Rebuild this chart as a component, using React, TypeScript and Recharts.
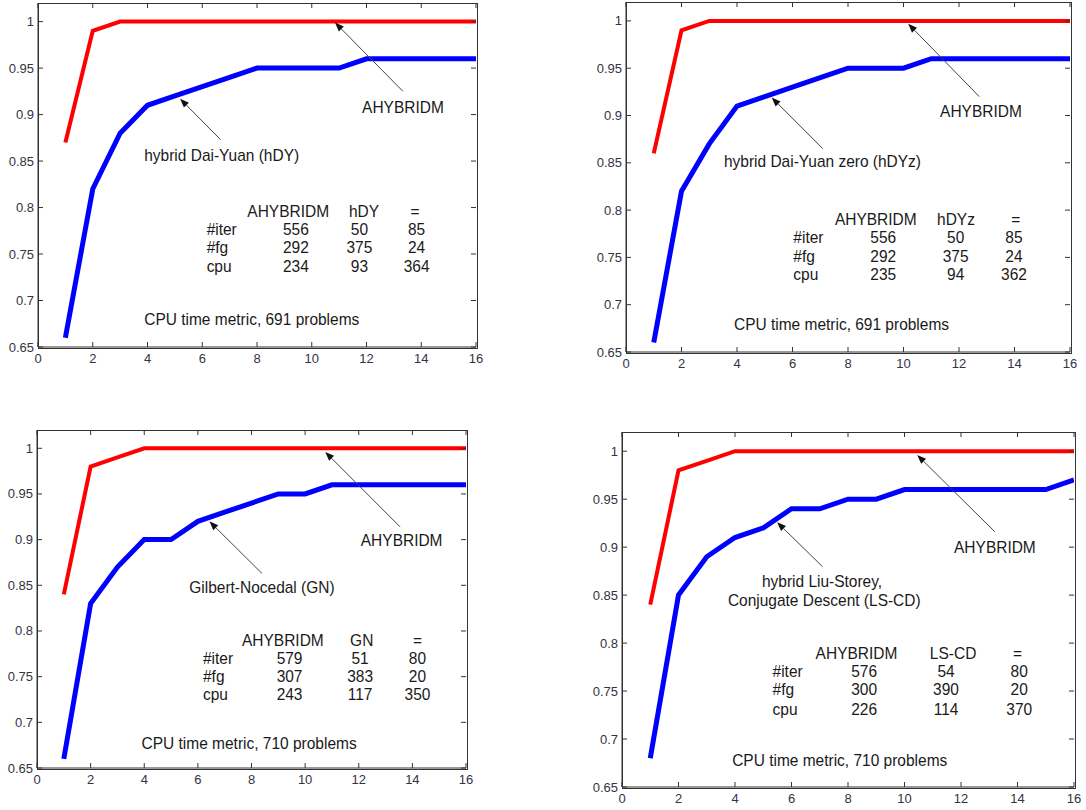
import { LineChart, Line, XAxis, YAxis, ReferenceLine, ReferenceDot } from "recharts";

const FONT = "'Liberation Sans', Arial, Helvetica, sans-serif";

// performance profile abscissa (tau) and axis ticks
const xSteps = [1, 2, 3, 4, 5, 6, 7, 8, 9, 10, 11, 12, 13, 14, 15, 16];
const xTicks = [0, 2, 4, 6, 8, 10, 12, 14, 16];
const yTicks = [0.65, 0.7, 0.75, 0.8, 0.85, 0.9, 0.95, 1];
const X_MIN = 0;
const X_MAX = 16;
const Y_MIN = 0.65;
const Y_MAX = 1.02;

// AHYBRIDM vs hybrid Dai-Yuan
const hdyAhybridm = [0.87, 0.99, 1, 1, 1, 1, 1, 1, 1, 1, 1, 1, 1, 1, 1, 1];
const hdyOther = [0.66, 0.82, 0.88, 0.91, 0.92, 0.93, 0.94, 0.95, 0.95, 0.95, 0.95, 0.96, 0.96, 0.96, 0.96, 0.96];
// AHYBRIDM vs hybrid Dai-Yuan zero
const hdyzAhybridm = [0.86, 0.99, 1, 1, 1, 1, 1, 1, 1, 1, 1, 1, 1, 1, 1, 1];
const hdyzOther = [0.66, 0.82, 0.87, 0.91, 0.92, 0.93, 0.94, 0.95, 0.95, 0.95, 0.96, 0.96, 0.96, 0.96, 0.96, 0.96];
// AHYBRIDM vs Gilbert-Nocedal
const gnAhybridm = [0.84, 0.98, 0.99, 1, 1, 1, 1, 1, 1, 1, 1, 1, 1, 1, 1, 1];
const gnOther = [0.66, 0.83, 0.87, 0.9, 0.9, 0.92, 0.93, 0.94, 0.95, 0.95, 0.96, 0.96, 0.96, 0.96, 0.96, 0.96];
// AHYBRIDM vs LS-CD
const lscdAhybridm = [0.84, 0.98, 0.99, 1, 1, 1, 1, 1, 1, 1, 1, 1, 1, 1, 1, 1];
const lscdOther = [0.68, 0.85, 0.89, 0.91, 0.92, 0.94, 0.94, 0.95, 0.95, 0.96, 0.96, 0.96, 0.96, 0.96, 0.96, 0.97];

// comparison tables: rows #iter, #fg, cpu; columns AHYBRIDM, other, =
const tableRows = ["#iter", "#fg", "cpu"];
const hdyCounts = [[556, 50, 85], [292, 375, 24], [234, 93, 364]];
const hdyzCounts = [[556, 50, 85], [292, 375, 24], [235, 94, 362]];
const gnCounts = [[579, 51, 80], [307, 383, 20], [243, 117, 350]];
const lscdCounts = [[576, 54, 80], [300, 390, 20], [226, 114, 370]];

type Pt = [number, number];

interface PanelSpec {
  left: number;
  top: number;
  width: number;
  height: number;
  red: number[];
  blue: number[];
  short: string;
  counts: number[][];
  caption: string;
  blueText: { text: string; at: Pt }[];
  blueArrow: [Pt, Pt];
  redText: Pt;
  redArrow: [Pt, Pt];
  rowX: number;
  headX: number[];
  numX: number[];
  headY: number;
  rowY: number[];
  captionAt: Pt;
}

const panels: PanelSpec[] = [
  {
    left: 38, top: 3, width: 438, height: 344,
    red: hdyAhybridm, blue: hdyOther, short: "hDY", counts: hdyCounts,
    caption: "CPU time metric, 691 problems",
    blueText: [{ text: "hybrid Dai-Yuan (hDY)", at: [6.71, 0.857] }],
    blueArrow: [[6.67, 0.873], [5.19, 0.917]],
    redText: [13.33, 0.909],
    redArrow: [[13.33, 0.925], [10.85, 0.999]],
    rowX: 6.16, headX: [9.14, 11.91, 13.77], numX: [9.42, 11.74, 13.83],
    headY: 0.797, rowY: [0.7775, 0.758, 0.738], captionAt: [3.88, 0.681],
  },
  {
    left: 626, top: 2, width: 444, height: 350,
    red: hdyzAhybridm, blue: hdyzOther, short: "hDYz", counts: hdyzCounts,
    caption: "CPU time metric, 691 problems",
    blueText: [{ text: "hybrid Dai-Yuan zero (hDYz)", at: [7.08, 0.852] }],
    blueArrow: [[7.09, 0.865], [5.25, 0.919]],
    redText: [12.79, 0.905],
    redArrow: [[12.73, 0.92], [10.17, 0.997]],
    rowX: 6.03, headX: [9.0, 11.89, 14.05], numX: [9.27, 11.88, 13.98],
    headY: 0.791, rowY: [0.772, 0.752, 0.7325], captionAt: [3.89, 0.68],
  },
  {
    left: 37, top: 430, width: 429, height: 338,
    red: gnAhybridm, blue: gnOther, short: "GN", counts: gnCounts,
    caption: "CPU time metric, 710 problems",
    blueText: [{ text: "Gilbert-Nocedal (GN)", at: [8.39, 0.848] }],
    blueArrow: [[8.39, 0.863], [6.43, 0.92]],
    redText: [13.6, 0.8995],
    redArrow: [[13.54, 0.914], [10.75, 0.996]],
    rowX: 6.19, headX: [9.17, 12.11, 14.19], numX: [9.42, 12.05, 14.19],
    headY: 0.7906, rowY: [0.771, 0.751, 0.7315], captionAt: [3.9, 0.678],
  },
  {
    left: 622, top: 432, width: 452, height: 355,
    red: lscdAhybridm, blue: lscdOther, short: "LS-CD", counts: lscdCounts,
    caption: "CPU time metric, 710 problems",
    blueText: [
      { text: "hybrid Liu-Storey,", at: [7.08, 0.865] },
      { text: "Conjugate Descent (LS-CD)", at: [7.16, 0.8456] },
    ],
    blueArrow: [[7.1, 0.8796], [5.49, 0.926]],
    redText: [13.2, 0.901],
    redArrow: [[13.2, 0.916], [10.45, 0.996]],
    rowX: 5.33, headX: [8.3, 11.72, 14.0], numX: [8.57, 11.47, 14.06],
    headY: 0.7904, rowY: [0.7713, 0.752, 0.732], captionAt: [3.9, 0.679],
  },
];

const fmt = (v: number) => String(Number(v.toFixed(2)));
const FRAME = "#333";

// bottom ticks also draw the matching inward tick on the top edge
const makeBottomTick = (h: number) => (p: any) => {
  const top = p.y - h;
  return (
    <g>
      <path d={`M${p.x},${p.y}V${p.y - 5}M${p.x},${top}V${top + 5}`} stroke={FRAME} strokeWidth={1} fill="none" />
      <text x={p.x} y={p.y + 16} textAnchor="middle" fontSize={13} fontFamily={FONT} fill="#333344">
        {p.payload.value}
      </text>
    </g>
  );
};

// left ticks also draw the matching inward tick on the right edge
const makeLeftTick = (w: number) => (p: any) => (
  <g>
    <path d={`M${p.x},${p.y}H${p.x + 5}M${p.x + w},${p.y}H${p.x + w - 5}`} stroke={FRAME} strokeWidth={1} fill="none" />
    <text x={p.x - 4} y={p.y + 4.5} textAnchor="end" fontSize={13} fontFamily={FONT} fill="#333344">
      {fmt(p.payload.value)}
    </text>
  </g>
);

const arrowShape = (p: any) => {
  const { x1, y1, x2, y2 } = p;
  const ang = Math.atan2(y2 - y1, x2 - x1);
  const len = 9;
  const half = 3.5;
  const bx = x2 - len * Math.cos(ang);
  const by = y2 - len * Math.sin(ang);
  const px = -Math.sin(ang) * half;
  const py = Math.cos(ang) * half;
  return (
    <g>
      <line x1={x1} y1={y1} x2={bx} y2={by} stroke="#444" strokeWidth={1} />
      <polygon points={`${x2},${y2} ${bx + px},${by + py} ${bx - px},${by - py}`} fill="#111" />
    </g>
  );
};

// the scanned text is a bit taller than plain Arial, so stretch it vertically
const textShape = (label: string, anchor: "start" | "middle" | "end" = "middle") => (p: any) => (
  <text
    transform={`translate(${p.cx},${p.cy}) scale(1,1.12)`}
    x={0}
    y={0}
    textAnchor={anchor}
    dominantBaseline="central"
    fontFamily={FONT}
    fontSize={15.5}
    fill="#1a1a1a"
  >
    {label}
  </text>
);

const seg = (a: Pt, b: Pt) => [
  { x: a[0], y: a[1] },
  { x: b[0], y: b[1] },
];

function Panel({ s }: { s: PanelSpec }) {
  const rows = xSteps.map((x, i) => ({ x, red: s.red[i], blue: s.blue[i] }));
  const notes: { text: string; at: Pt; anchor?: "start" | "middle" | "end" }[] = [
    { text: "AHYBRIDM", at: s.redText },
    ...s.blueText,
    { text: s.caption, at: s.captionAt, anchor: "start" },
    { text: "AHYBRIDM", at: [s.headX[0], s.headY] },
    { text: s.short, at: [s.headX[1], s.headY] },
    { text: "=", at: [s.headX[2], s.headY] },
  ];
  tableRows.forEach((r, i) => {
    notes.push({ text: r, at: [s.rowX, s.rowY[i]], anchor: "start" });
    s.counts[i].forEach((v, j) => notes.push({ text: String(v), at: [s.numX[j], s.rowY[i]] }));
  });

  return (
    <>
      {/* plot box outline */}
      <div
        style={{
          position: "absolute",
          left: s.left - 0.5,
          top: s.top - 0.5,
          width: s.width,
          height: s.height,
          border: `1px solid ${FRAME}`,
          boxSizing: "content-box",
        }}
      />
      <div style={{ position: "absolute", left: s.left - 40, top: s.top - 4 }}>
        <LineChart
          width={s.width + 54}
          height={s.height + 28}
          data={rows}
          margin={{ top: 4, right: 14, left: 0, bottom: 0 }}
        >
          <XAxis
            dataKey="x"
            type="number"
            domain={[X_MIN, X_MAX]}
            ticks={xTicks}
            interval={0}
            allowDataOverflow
            height={24}
            tickSize={0}
            tickMargin={0}
            tickLine={false}
            axisLine={{ stroke: FRAME }}
            tick={makeBottomTick(s.height)}
          />
          <YAxis
            type="number"
            domain={[Y_MIN, Y_MAX]}
            ticks={yTicks}
            interval={0}
            allowDataOverflow
            width={40}
            tickSize={0}
            tickMargin={0}
            tickLine={false}
            axisLine={{ stroke: FRAME }}
            tick={makeLeftTick(s.width)}
          />
          <Line
            type="linear"
            dataKey="red"
            stroke="#ff0000"
            strokeWidth={4}
            dot={false}
            activeDot={false}
            isAnimationActive={false}
          />
          <Line
            type="linear"
            dataKey="blue"
            stroke="#0000ff"
            strokeWidth={5}
            dot={false}
            activeDot={false}
            isAnimationActive={false}
          />
          <ReferenceLine ifOverflow="visible" segment={seg(s.redArrow[0], s.redArrow[1])} shape={arrowShape} />
          <ReferenceLine ifOverflow="visible" segment={seg(s.blueArrow[0], s.blueArrow[1])} shape={arrowShape} />
          {notes.map((n, i) => (
            <ReferenceDot key={i} x={n.at[0]} y={n.at[1]} r={0} shape={textShape(n.text, n.anchor)} />
          ))}
        </LineChart>
      </div>
    </>
  );
}

export default function App() {
  return (
    <div
      style={{
        position: "absolute",
        left: 0,
        top: 0,
        width: 1086,
        height: 810,
        background: "#ffffff",
        overflow: "hidden",
      }}
    >
      {panels.map((s, i) => (
        <Panel key={i} s={s} />
      ))}
    </div>
  );
}
